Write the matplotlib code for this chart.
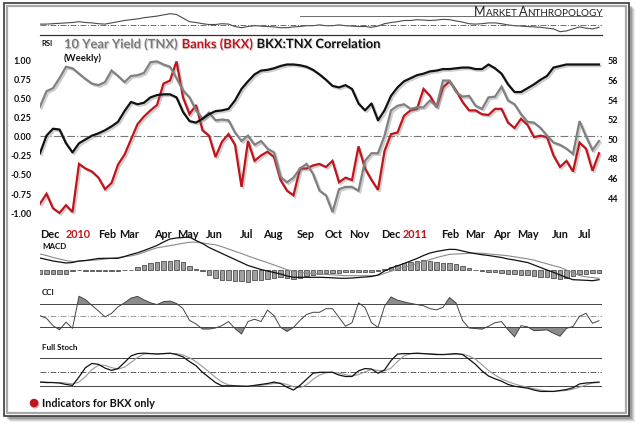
import numpy as np
import matplotlib
matplotlib.use("Agg")
import matplotlib.pyplot as plt
import matplotlib.patheffects as pe
from matplotlib.patches import Rectangle, Ellipse
from matplotlib.lines import Line2D
from matplotlib.text import Annotation

W, H = 640, 427
RED = "#c0141c"
GRAY = "#808080"
INK = "#111111"
FONT = "Lato"
plt.rcParams["font.family"] = [FONT, "DejaVu Sans"]

# weekly bars, Dec 2009 .. Jul 2011
weeks = np.arange(87)

corr = [-0.23, 0.00, 0.09, 0.08, -0.10, -0.22, -0.10, -0.05, 0.00, 0.03,
        0.07, 0.12, 0.18, 0.32, 0.44, 0.41, 0.43, 0.50, 0.53, 0.54,
        0.54, 0.50, 0.31, 0.19, 0.17, 0.22, 0.28, 0.32, 0.33, 0.35,
        0.46, 0.61, 0.71, 0.80, 0.85, 0.86, 0.88, 0.91, 0.93, 0.93,
        0.92, 0.90, 0.86, 0.80, 0.73, 0.65, 0.63, 0.66, 0.61, 0.42,
        0.33, 0.42, 0.20, 0.33, 0.52, 0.63, 0.71, 0.75, 0.79, 0.81,
        0.84, 0.85, 0.87, 0.87, 0.88, 0.89, 0.89, 0.87, 0.87, 0.93,
        0.88, 0.81, 0.67, 0.57, 0.57, 0.62, 0.67, 0.73, 0.78, 0.89,
        0.91, 0.93, 0.93, 0.93, 0.93, 0.93, 0.93]

bkx = [-0.89, -0.76, -0.95, -1.01, -0.91, -1.00, -0.37, -0.43, -0.47, -0.55,
       -0.70, -0.62, -0.38, -0.25, -0.05, 0.15, 0.25, 0.33, 0.40, 0.68,
       0.72, 0.97, 0.50, 0.28, 0.40, 0.07, 0.00, -0.28, -0.08, 0.02,
       -0.12, -0.67, -0.07, -0.33, -0.26, -0.21, -0.28, -0.58, -0.72, -0.78,
       -0.43, -0.43, -0.39, -0.37, -0.41, -0.33, -0.61, -0.55, -0.58, -0.14,
       -0.43, -0.58, -0.71, -0.20, 0.02, 0.04, 0.26, 0.33, 0.35, 0.61,
       0.52, 0.37, 0.63, 0.71, 0.59, 0.44, 0.33, 0.33, 0.28, 0.27,
       0.35, 0.35, 0.17, 0.10, 0.22, 0.14, -0.02, 0.00, -0.02, -0.26,
       -0.41, -0.33, -0.47, -0.09, -0.17, -0.46, -0.23]

tnx = [0.38, 0.58, 0.62, 0.75, 0.90, 0.88, 0.81, 0.74, 0.68, 0.66,
       0.70, 0.85, 0.78, 0.70, 0.78, 0.79, 0.82, 0.96, 0.97, 0.93,
       0.90, 0.75, 0.59, 0.50, 0.33, 0.22, 0.30, 0.20, 0.21, 0.20,
       0.04, -0.07, 0.00, -0.12, -0.07, -0.17, -0.22, -0.54, -0.61, -0.55,
       -0.43, -0.37, -0.50, -0.72, -0.78, -1.00, -0.70, -0.67, -0.67, -0.72,
       -0.33, -0.23, -0.23, 0.00, 0.33, 0.39, 0.41, 0.35, 0.37, 0.37,
       0.46, 0.38, 0.72, 0.72, 0.57, 0.51, 0.52, 0.39, 0.35, 0.50,
       0.51, 0.64, 0.46, 0.41, 0.28, 0.18, 0.17, 0.10, 0.00, -0.09,
       -0.12, -0.17, -0.24, 0.19, -0.01, -0.19, -0.07]

rsi = [51, 51, 52, 53, 54, 55, 57, 55, 54, 52,
       51, 54, 57, 60, 62, 64, 67, 69, 71, 74,
       77, 75, 66, 57, 55, 52, 50, 50, 52, 51,
       45, 42, 45, 47, 46, 45, 44, 42, 42, 44,
       45, 47, 47, 49, 47, 47, 49, 47, 46, 45,
       45, 43, 46, 52, 55, 57, 60, 60, 62, 61,
       60, 61, 63, 62, 59, 56, 52, 51, 52, 54,
       54, 52, 49, 47, 46, 45, 44, 43, 41, 39,
       32, 34, 39, 44, 41, 39, 43]

macd = [1.20, 1.05, 0.90, 0.80, 0.70, 0.75, 0.90, 0.95, 1.05, 1.15,
        1.17, 1.17, 1.17, 1.35, 1.55, 1.72, 1.95, 2.20, 2.45, 2.80,
        3.10, 3.20, 3.25, 3.30, 2.95, 2.65, 2.25, 1.95, 1.65, 1.35,
        1.05, 0.75, 0.45, 0.25, 0.05, -0.10, -0.25, -0.40, -0.60, -0.73,
        -0.73, -0.73, -0.73, -0.73, -0.75, -0.78, -0.82, -0.83, -0.80, -0.75,
        -0.70, -0.65, -0.50, -0.10, 0.20, 0.42, 0.65, 0.90, 1.15, 1.45,
        1.70, 1.85, 1.97, 2.07, 2.05, 1.90, 1.75, 1.63, 1.53, 1.45,
        1.35, 1.25, 1.10, 1.00, 0.87, 0.75, 0.50, 0.25, 0.00, -0.23,
        -0.50, -0.75, -0.97, -1.00, -1.03, -1.07, -0.97]

signal = [1.60, 1.45, 1.25, 1.10, 0.95, 0.85, 0.88, 0.93, 0.98, 1.02,
          1.09, 1.17, 1.25, 1.33, 1.41, 1.56, 1.77, 2.01, 2.22, 2.33,
          2.44, 2.55, 2.67, 2.78, 2.78, 2.70, 2.60, 2.52, 2.33, 2.10,
          1.87, 1.65, 1.40, 1.17, 0.95, 0.74, 0.50, 0.27, 0.03, -0.12,
          -0.23, -0.30, -0.35, -0.40, -0.44, -0.48, -0.52, -0.57, -0.57, -0.57,
          -0.57, -0.57, -0.55, -0.34, -0.12, 0.10, 0.28, 0.46, 0.65, 0.84,
          1.04, 1.24, 1.41, 1.56, 1.60, 1.63, 1.66, 1.69, 1.67, 1.61,
          1.55, 1.49, 1.42, 1.32, 1.22, 1.12, 0.99, 0.80, 0.62, 0.43,
          0.27, 0.00, -0.28, -0.55, -0.68, -0.76, -0.83]

hist = [-0.35, -0.40, -0.40, -0.35, -0.35, -0.06, -0.04, -0.05, -0.05, -0.06,
        -0.08, -0.06, -0.05, -0.03, 0.05, 0.30, 0.50, 0.70, 0.80, 0.90,
        0.95, 1.00, 0.80, 0.40, 0.15, -0.10, -0.50, -0.80, -0.95, -1.00,
        -1.10, -1.10, -1.20, -1.00, -0.95, -0.87, -0.77, -0.67, -0.77, -0.87,
        -0.77, -0.55, -0.45, -0.37, -0.30, -0.25, -0.25, -0.20, -0.20, -0.15,
        -0.20, -0.15, -0.10, 0.10, 0.30, 0.55, 0.70, 0.85, 0.95, 1.03,
        0.93, 0.77, 0.70, 0.70, 0.60, 0.43, 0.17, 0.03, -0.13, -0.15,
        -0.23, -0.30, -0.40, -0.40, -0.53, -0.53, -0.60, -0.67, -0.67, -0.77,
        -0.87, -0.80, -0.55, -0.43, -0.37, -0.30, -0.27]

cci = [0, -22, -85, -120, -55, -108, 166, 137, 88, 40,
       -10, 20, 75, 110, 150, 165, 135, 110, 95, 120,
       125, 105, 60, -40, -70, -114, -114, -105, -84, -50,
       -110, -156, -50, -30, -50, 48, 0, -99, -135, -100,
       -40, 10, 29, 29, 60, 60, -15, -90, -60, 110,
       70, -60, -100, 80, 160, 132, 118, 105, 95, 85,
       60, 50, 72, 155, 110, -40, -105, -110, -115, -90,
       -60, -50, -120, -180, -85, -95, -128, -125, -121, -150,
       -175, -108, -92, -5, 20, -65, -43]

stoch_k = [29, 28, 28, 27, 24, 22, 40, 60, 69, 67,
           59, 54, 58, 71, 85, 90, 91, 90, 89, 90,
           91, 88, 83, 73, 64, 50, 39, 28, 21, 21,
           21, 20, 20, 22, 24, 26, 29, 26, 18, 12,
           22, 35, 48, 50, 50, 50, 44, 41, 41, 53,
           58, 57, 48, 55, 75, 89, 90, 90, 91, 90,
           89, 88, 88, 89, 90, 88, 78, 67, 53, 42,
           36, 31, 24, 20, 18, 16, 12, 9, 9, 9,
           11, 13, 17, 25, 27, 28, 29]

stoch_d = [29, 29, 28, 28, 27, 25, 29, 41, 56, 65,
           65, 60, 57, 61, 71, 82, 89, 90, 90, 90,
           90, 90, 87, 81, 73, 62, 51, 39, 29, 23,
           21, 21, 20, 21, 22, 24, 26, 27, 24, 19,
           17, 23, 35, 44, 49, 50, 48, 45, 42, 45,
           51, 56, 54, 53, 59, 73, 85, 90, 90, 90,
           90, 89, 88, 88, 89, 89, 85, 78, 66, 54,
           44, 36, 30, 25, 21, 18, 15, 12, 10, 9,
           10, 11, 14, 18, 23, 27, 28]

month_pos = [1.5, 5.8, 10.3, 13.7, 18.9, 22.8, 26.8, 31.8, 35.8, 40.9,
             45.2, 49.1, 54.0, 57.7, 63.1, 66.9, 71.1, 75.1, 80.0, 83.8]
month_lbl = ["Dec", "2010", "Feb", "Mar", "Apr", "May", "Jun", "Jul", "Aug", "Sep",
             "Oct", "Nov", "Dec", "2011", "Feb", "Mar", "Apr", "May", "Jun", "Jul"]
left_ticks = [-1.0, -0.75, -0.5, -0.25, 0.0, 0.25, 0.5, 0.75, 1.0]
right_ticks = [44, 46, 48, 50, 52, 54, 56, 58]

fig = plt.figure(figsize=(6.4, 4.27), dpi=100, facecolor="white")
TF = fig.transFigure


def box(x0, y0, x1, y1):
    return [x0 / W, 1 - y1 / H, (x1 - x0) / W, (y1 - y0) / H]


def rect(x0, y0, x1, y1, **kw):
    fig.add_artist(Rectangle((x0 / W, 1 - y1 / H), (x1 - x0) / W, (y1 - y0) / H,
                             transform=TF, **kw))


def hline(y, x0, x1, **kw):
    fig.add_artist(Line2D([x0 / W, x1 / W], [1 - y / H] * 2, transform=TF, **kw))


def label(x, y, s, **kw):
    return fig.text(x / W, 1 - y / H, s, va="center", ha="left", **kw)


def chain(prev, s, xy=(1, 0.5), va="center", gap=0, **kw):
    return fig.add_artist(Annotation(s, xy=xy, xycoords=prev, xytext=(gap, 0),
                                     textcoords="offset points", va=va, **kw))


# frame with soft shadow
for k, a in [(6, 0.10), (5, 0.15), (4, 0.2), (3, 0.3)]:
    rect(4 + k, 4 + k, 629 + k, 417 + k, facecolor="#555555", edgecolor="none", alpha=a, zorder=0)
rect(4, 4, 629, 417, facecolor="white", edgecolor="#3a3a3a", lw=1.2, zorder=0)
rect(7, 7, 626, 414, facecolor="none", edgecolor="#a8a8a8", lw=1.6, zorder=0)

shadow = [pe.SimpleLineShadow(offset=(1.2, -1.2), shadow_color="0.45", alpha=0.35), pe.Normal()]
tshadow = [pe.withSimplePatchShadow(offset=(0.8, -0.8), shadow_rgbFace="0.5", alpha=0.35)]
bold = dict(fontweight="bold", color=INK)

# ---- RSI strip on top
ar = fig.add_axes(box(40, 9, 602, 35))
ar.set_xlim(0, 86.46)
ar.set_ylim(26.25, 91.25)
ar.plot(weeks, rsi, color="#4a4a4a", lw=0.8)
ar.axhline(50, color="#555555", lw=0.6, ls=(0, (7, 2, 1, 2)))
ar.axis("off")
hline(36, 40, 602, color="#333333", lw=0.9)
hline(17, 300, 602, color="#555555", lw=0.6)

# masthead in small caps
prev = label(474, 11.5, "M", fontsize=9, color="#222222")
for s, fs in [("ARKET ", 7.1), ("A", 9), ("NTHROPOLOGY", 7.1)]:
    prev = chain(prev, s, xy=(1, 0), va="bottom", fontsize=fs, color="#222222")

# ---- main panel
ax = fig.add_axes(box(40, 55, 602, 222))
ax.set_xlim(0, 86.46)
ax.set_ylim(-1.116, 1.067)
ax.axhline(0, color="#777777", lw=0.8, ls=(0, (7, 2, 1, 2)))
ax.plot(weeks, bkx, color=RED, lw=1.6, path_effects=shadow, solid_joinstyle="miter")
ax.plot(weeks, tnx, color=GRAY, lw=1.6, path_effects=shadow, solid_joinstyle="miter")
ax.plot(weeks, corr, color=INK, lw=1.6, path_effects=shadow)
ax.set_yticks(left_ticks)
ax.set_yticklabels([f"{v:.2f}" for v in left_ticks], fontsize=6.5, **bold)
ax.set_xticks(month_pos)
ax.set_xticklabels(month_lbl, fontsize=7.8, **bold)
for t in ax.get_xticklabels():
    if t.get_text() in ("2010", "2011"):
        t.set_color(RED)
ax.tick_params(length=0, pad=6)
ax.tick_params(axis="x", pad=5)
for sp in ax.spines.values():
    sp.set_visible(False)

axr = ax.twinx()
axr.set_ylim(41.55, 58.61)
axr.set_yticks(right_ticks)
axr.set_yticklabels([str(v) for v in right_ticks], fontsize=6.5, **bold)
axr.tick_params(length=0, pad=4)
for sp in axr.spines.values():
    sp.set_visible(False)

t1 = label(64, 45, "10 Year Yield (TNX)", fontsize=9.3, fontweight="bold", color="#7a7a7a",
           path_effects=tshadow)
t2 = chain(t1, "Banks (BKX)", gap=3, fontsize=9.3, fontweight="bold", color=RED,
           path_effects=tshadow)
chain(t2, "BKX:TNX Correlation", gap=3, fontsize=9.3, fontweight="bold", color=INK,
      path_effects=tshadow)
label(64, 58, "(Weekly)", fontsize=6.8, **bold)
label(41, 44, "RSI", fontsize=5.5, **bold)

# ---- MACD
am = fig.add_axes(box(40, 236, 602, 286))
am.set_xlim(0, 86.46)
am.set_ylim(-1.5, 3.5)
am.bar(weeks, hist, width=0.7, color="#a0a0a0", edgecolor="#333333", lw=0.5)
am.plot(weeks, signal, color="#8a8a8a", lw=0.8)
am.plot(weeks, macd, color=INK, lw=0.9)
am.axis("off")
label(42, 247, "MACD", fontsize=5.8, **bold)

# ---- CCI
ac = fig.add_axes(box(40, 290, 602, 342))
ac.set_xlim(0, 86.46)
ac.set_ylim(-216, 228)
cc = np.array(cci, dtype=float)
ac.fill_between(weeks, 100, cc, where=cc > 100, interpolate=True, color="#8c8c8c", lw=0)
ac.fill_between(weeks, -100, cc, where=cc < -100, interpolate=True, color="#8c8c8c", lw=0)
for lv in (100, -100):
    ac.axhline(lv, color="#444444", lw=0.7)
ac.axhline(0, color="#888888", lw=0.6, ls=(0, (7, 2, 1, 2)))
ac.plot(weeks, cci, color="#444444", lw=0.7)
ac.axis("off")
label(42, 293, "CCI", fontsize=5.8, **bold)

# ---- Full stochastic
ast = fig.add_axes(box(40, 345, 602, 397))
ast.set_xlim(0, 86.46)
ast.set_ylim(-0.8, 110.6)
for lv in (80, 20):
    ast.axhline(lv, color="#444444", lw=0.7)
ast.axhline(50, color="#444444", lw=0.6, ls=(0, (7, 2, 1, 2)))
ast.plot(weeks, stoch_d, color="#9a9a9a", lw=0.8)
ast.plot(weeks, stoch_k, color=INK, lw=0.9)
ast.axis("off")
label(42, 347.5, "Full Stoch", fontsize=5.8, **bold)

# legend note
fig.add_artist(Ellipse((35 / W, 1 - 405 / H), 9 / W, 9 / H, transform=TF,
                       facecolor="#7a1010", edgecolor="none", alpha=0.35))
fig.add_artist(Ellipse((34 / W, 1 - 404 / H), 8.5 / W, 8.5 / H, transform=TF,
                       facecolor=RED, edgecolor="none"))
label(42, 404, "Indicators for BKX only", fontsize=7.8, **bold)

fig.savefig("out.png", dpi=100, facecolor="white")
